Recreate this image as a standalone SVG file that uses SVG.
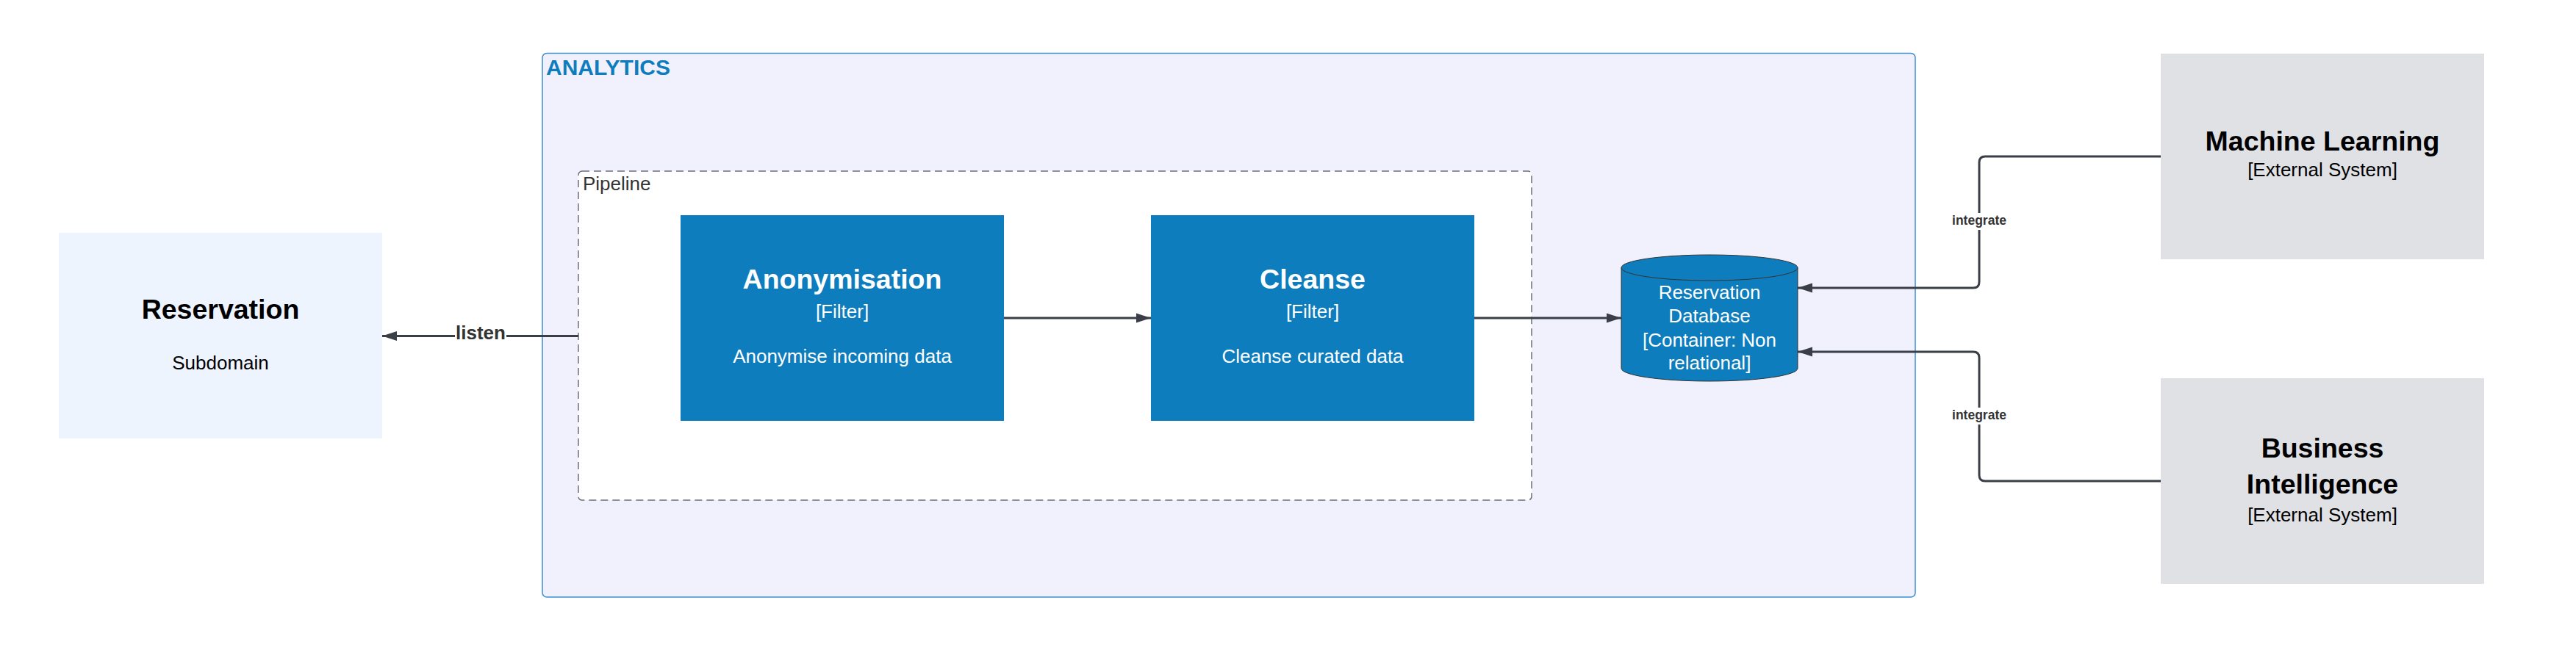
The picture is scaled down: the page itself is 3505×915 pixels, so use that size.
<svg xmlns="http://www.w3.org/2000/svg" width="3505" height="915" viewBox="0 0 3505 915">
<style>
  text { font-family: "Liberation Sans", Arial, sans-serif; }
  .title { font-size: 37.5px; font-weight: bold; text-anchor: middle; }
  .sub { font-size: 26px; text-anchor: middle; }
  .white { fill: #ffffff; }
  .black { fill: #000000; }
  .filter { fill: #0e7dbd; }
  .ext { fill: #dfe1e5; }
  .conn { fill: none; stroke: #3a3e46; stroke-width: 3; }
  .lbl { font-size: 26px; font-weight: bold; fill: #333333; text-anchor: middle; }
  .lbl-s { font-size: 17.5px; font-weight: bold; fill: #333333; text-anchor: middle; }
</style>
<defs>
  <marker id="arrow" markerUnits="userSpaceOnUse" markerWidth="20" markerHeight="14" refX="20" refY="7" orient="auto">
    <path d="M0,0.5 L20,7 L0,13.5 Z" fill="#3a3e46"/>
  </marker>
</defs>
<rect width="3505" height="915" fill="#ffffff"/>

<g id="analytics">
  <rect x="738" y="72.5" width="1868" height="740.5" rx="6" fill="#f0f1fc" stroke="#3b8fd0" stroke-width="1.5"/>
  <text x="743" y="102" font-size="30" font-weight="bold" fill="#0f7dbc">ANALYTICS</text>
</g>

<g id="pipeline">
  <rect x="787" y="233" width="1297" height="448" rx="5" fill="#ffffff" stroke="#6b6f76" stroke-width="1.5" stroke-dasharray="10 6"/>
  <text x="793" y="259" font-size="26" fill="#333333">Pipeline</text>
</g>

<g id="reservation">
  <rect x="80" y="317" width="440" height="280" fill="#edf4fe"/>
  <text class="title black" x="300" y="434">Reservation</text>
  <text class="sub black" x="300" y="503">Subdomain</text>
</g>

<g id="anonymisation">
  <rect class="filter" x="926" y="293" width="440" height="280"/>
  <text class="title white" x="1146" y="393">Anonymisation</text>
  <text class="sub white" x="1146" y="433">[Filter]</text>
  <text class="sub white" x="1146" y="494">Anonymise incoming data</text>
</g>

<g id="cleanse">
  <rect class="filter" x="1566" y="293" width="440" height="280"/>
  <text class="title white" x="1786" y="393">Cleanse</text>
  <text class="sub white" x="1786" y="433">[Filter]</text>
  <text class="sub white" x="1786" y="494">Cleanse curated data</text>
</g>

<g id="database">
  <path d="M2206,364.5 A120,17.5 0 0 1 2446,364.5 L2446,501.5 A120,17.5 0 0 1 2206,501.5 Z" fill="#0e7dbd" stroke="#333333" stroke-width="1"/>
  <path d="M2206,364.5 A120,17.5 0 0 0 2446,364.5" fill="none" stroke="#333333" stroke-width="1"/>
  <text class="sub white" x="2326" y="407">Reservation</text>
  <text class="sub white" x="2326" y="439">Database</text>
  <text class="sub white" x="2326" y="472">[Container: Non</text>
  <text class="sub white" x="2326" y="503">relational]</text>
</g>

<g id="machine-learning">
  <rect class="ext" x="2940" y="73" width="440" height="280"/>
  <text class="title black" x="3160" y="205">Machine Learning</text>
  <text class="sub black" x="3160" y="240">[External System]</text>
</g>

<g id="business-intelligence">
  <rect class="ext" x="2940" y="515" width="440" height="280"/>
  <text class="title black" x="3160" y="623">Business</text>
  <text class="title black" x="3160" y="672">Intelligence</text>
  <text class="sub black" x="3160" y="710">[External System]</text>
</g>

<g id="connectors">
  <path class="conn" d="M787,457.5 L520,457.5" marker-end="url(#arrow)"/>
  <rect x="619" y="440" width="70" height="32" fill="#ffffff"/>
  <text class="lbl" x="654" y="462">listen</text>

  <path class="conn" d="M1366,433 L1566,433" marker-end="url(#arrow)"/>
  <path class="conn" d="M2006,433 L2206,433" marker-end="url(#arrow)"/>

  <path class="conn" d="M2940,213 L2701,213 Q2693,213 2693,221 L2693,384 Q2693,392 2685,392 L2446,392" marker-end="url(#arrow)"/>
  <rect x="2654" y="290" width="78" height="23" fill="#ffffff"/>
  <text class="lbl-s" x="2693" y="306">integrate</text>

  <path class="conn" d="M2940,655 L2701,655 Q2693,655 2693,647 L2693,487 Q2693,479 2685,479 L2446,479" marker-end="url(#arrow)"/>
  <rect x="2654" y="555" width="78" height="23" fill="#ffffff"/>
  <text class="lbl-s" x="2693" y="571">integrate</text>
</g>
</svg>
